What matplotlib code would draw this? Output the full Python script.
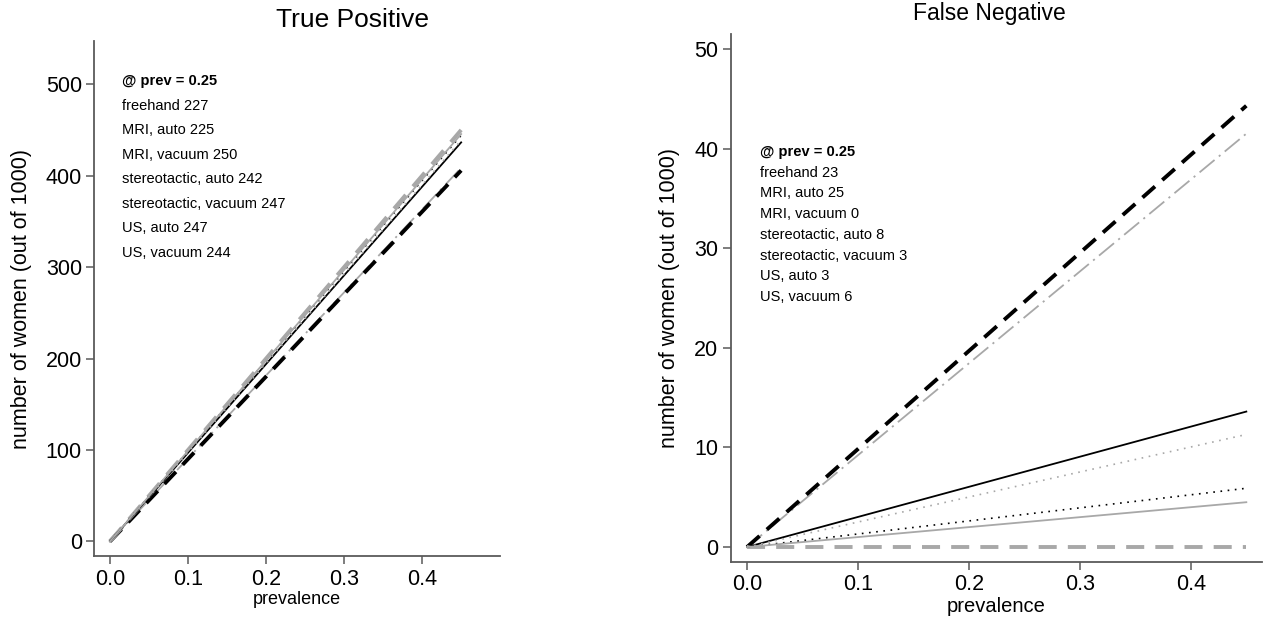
import matplotlib
matplotlib.use("Agg")
import matplotlib.pyplot as plt

plt.rcParams["font.family"] = ["Liberation Sans", "DejaVu Sans"]
plt.rcParams["lines.scale_dashes"] = False

# prevalence range drawn
prevalence = [0.0, 0.45]

methods = [
    "freehand",
    "MRI, auto",
    "MRI, vacuum",
    "stereotactic, auto",
    "stereotactic, vacuum",
    "US, auto",
    "US, vacuum",
]

# values at prevalence 0 and 0.45 (out of 1000)
tp_start = [0, 0, 0, 0, 0, 0, 0]
tp_end = [408.5, 405.7, 450.0, 436.4, 444.1, 445.5, 438.7]
fn_start = [0, 0, 0, 0, 0, 0, 0]
fn_end = [41.5, 44.3, 0.0, 13.6, 5.9, 4.5, 11.3]

# annotated values @ prev = 0.25
tp_at_025 = [227, 225, 250, 242, 247, 247, 244]
fn_at_025 = [23, 25, 0, 8, 3, 3, 6]

GRAY = "#a8a8a8"
styles = [
    dict(color=GRAY, lw=1.3, dashes=(14, 4, 1.5, 4)),
    dict(color="black", lw=2.8, dashes=(12, 7)),
    dict(color=GRAY, lw=2.8, dashes=(13, 8)),
    dict(color="black", lw=1.3, linestyle="-"),
    dict(color="black", lw=1.2, dashes=(1.2, 4)),
    dict(color=GRAY, lw=1.3, linestyle="-"),
    dict(color=GRAY, lw=1.2, dashes=(1.2, 4)),
]

SPINE = "#5a5a5a"


def style_axes(ax, xlabel_size):
    for name in ("top", "right"):
        ax.spines[name].set_visible(False)
    for name in ("left", "bottom"):
        ax.spines[name].set_color(SPINE)
        ax.spines[name].set_linewidth(1.3)
    ax.tick_params(axis="both", direction="out", length=6, width=1.1,
                   color=SPINE, labelsize=15.5, labelcolor="black", pad=3)
    ax.set_xticks([0.0, 0.1, 0.2, 0.3, 0.4])
    ax.set_xticklabels(["0.0", "0.1", "0.2", "0.3", "0.4"])
    ax.set_xlabel("prevalence", fontsize=xlabel_size, labelpad=1)
    ax.set_ylabel("number of women (out of 1000)", fontsize=15.5, labelpad=10)


fig = plt.figure(figsize=(12.64, 6.27), dpi=100)
ax1 = fig.add_axes([0.0747, 0.1132, 0.321, 0.821])
ax2 = fig.add_axes([0.5783, 0.1037, 0.42, 0.842])

for i in range(len(methods)):
    ax1.plot(prevalence, [tp_start[i], tp_end[i]], **styles[i])
    ax2.plot(prevalence, [fn_start[i], fn_end[i]], **styles[i])

ax1.set_xlim(-0.02, 0.5)
ax1.set_ylim(-16, 547)
ax1.set_yticks([0, 100, 200, 300, 400, 500])
ax2.set_xlim(-0.0145, 0.464)
ax2.set_ylim(-1.5, 51.5)
ax2.set_yticks([0, 10, 20, 30, 40, 50])

style_axes(ax1, 13)
style_axes(ax2, 14.5)

# annotation blocks
ax1.text(0.068, 0.922, "@ prev = 0.25", transform=ax1.transAxes,
         fontsize=10.5, fontweight="bold", va="center")
for i, m in enumerate(methods):
    ax1.text(0.068, 0.922 - 0.0476 * (i + 1), f"{m} {tp_at_025[i]}",
             transform=ax1.transAxes, fontsize=10.5, va="center")

ax2.text(0.0546, 0.7765, "@ prev = 0.25", transform=ax2.transAxes,
         fontsize=10.5, fontweight="bold", va="center")
for i, m in enumerate(methods):
    ax2.text(0.0546, 0.7765 - 0.0392 * (i + 1), f"{m} {fn_at_025[i]}",
             transform=ax2.transAxes, fontsize=10.5, va="center")

fig.text(0.279, 0.968, "True Positive", ha="center", va="center", fontsize=19)
fig.text(0.783, 0.978, "False Negative", ha="center", va="center", fontsize=16.5)

fig.savefig("out.png", dpi=100, facecolor="white")
